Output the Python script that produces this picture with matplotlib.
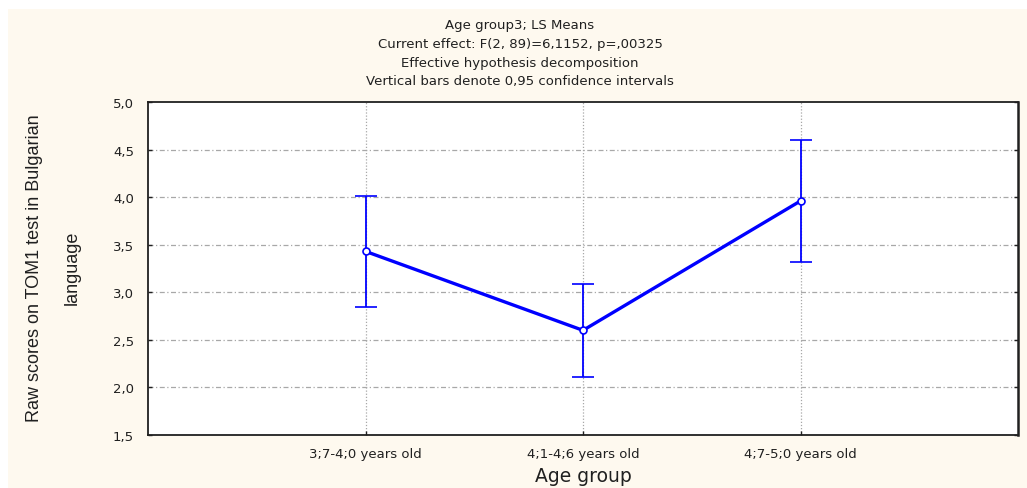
import numpy as np
import matplotlib.pyplot as plt
from matplotlib.patches import Rectangle

# LS means of TOM1 raw scores by age group, with 0.95 CI half-widths
grupos = ['3;7-4;0 years old', '4;1-4;6 years old', '4;7-5;0 years old']
medias = [3.43, 2.60, 3.96]
ic95 = [0.58, 0.49, 0.64]

fondo = '#fef9ef'
azul = '#0000ff'

fig = plt.figure(figsize=(10.27, 4.89), dpi=100, facecolor=fondo)
# borde blanco arriba e izquierda
fig.patches.append(Rectangle((0, 1 - 10/489), 1, 10/489, transform=fig.transFigure,
                             facecolor='white', edgecolor='none', zorder=-1))
fig.patches.append(Rectangle((0, 0), 8/1027, 1, transform=fig.transFigure,
                             facecolor='white', edgecolor='none', zorder=-1))

ax = fig.add_axes([148/1027, 53/489, 870/1027, 333/489])
ax.set_facecolor('white')

x = np.arange(1, len(grupos) + 1)
ax.errorbar(x, medias, yerr=ic95, color=azul, lw=2.4, elinewidth=1.3,
            capsize=8, capthick=1.3, marker='o', ms=5, mfc='white',
            mec=azul, mew=1.2, zorder=3)

ax.set_xlim(0, 4)
ax.set_ylim(1.5, 5.0)
ax.set_xticks(x)
ax.set_xticklabels(grupos)
yt = np.arange(1.5, 5.01, 0.5)
ax.set_yticks(yt)
ax.set_yticklabels([f'{v:.1f}'.replace('.', ',') for v in yt])

for v in yt[1:-1]:
    ax.axhline(v, color='#a8a8a8', lw=0.9, ls=(0, (4, 2, 1, 2)), zorder=1)
for xi in x:
    ax.axvline(xi, color='#a8a8a8', lw=0.9, ls=(0, (1, 1.5)), zorder=1)

for s in ax.spines.values():
    s.set_linewidth(1.3)
    s.set_color('#202020')
ax.spines['right'].set_linewidth(1.8)
ax.tick_params(axis='both', direction='in', length=3, width=1, colors='#202020',
               labelsize=9.5, right=True, pad=10)
ax.tick_params(axis='x', pad=9)
for t in ax.get_xticklabels() + ax.get_yticklabels():
    t.set_fontfamily('DejaVu Sans')

titulo = ['Age group3; LS Means',
          'Current effect: F(2, 89)=6,1152, p=,00325',
          'Effective hypothesis decomposition',
          'Vertical bars denote 0,95 confidence intervals']
for i, linea in enumerate(titulo):
    fig.text(520/1027, 1 - (26 + 18.5*i)/489, linea, ha='center', va='center',
             fontsize=9.5, family='DejaVu Sans', color='#202020')

fig.text(583/1027, 1 - 477/489, 'Age group', ha='center', va='center',
         fontsize=13.5, family='DejaVu Sans', color='#202020')
fig.text(35/1027, 1 - 268/489, 'Raw scores on TOM1 test in Bulgarian',
         rotation=90, ha='center', va='center', fontsize=13,
         family='Liberation Sans', color='#202020')
fig.text(72/1027, 1 - 268/489, 'language',
         rotation=90, ha='center', va='center', fontsize=13,
         family='Liberation Sans', color='#202020')

plt.savefig('out.png', dpi=100, facecolor=fondo)
